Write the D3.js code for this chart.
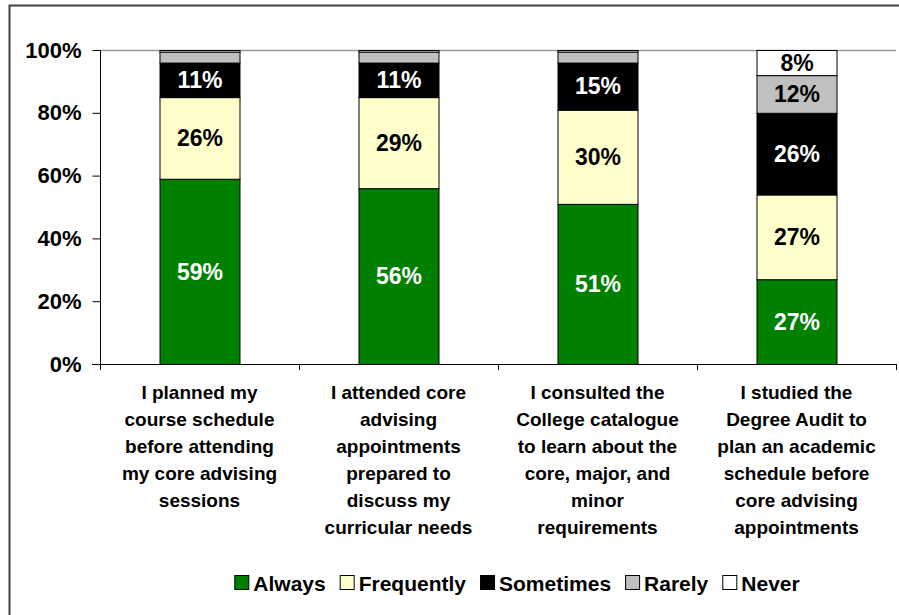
<!DOCTYPE html>
<html>
<head>
<meta charset="utf-8">
<script src="https://cdn.jsdelivr.net/npm/d3@7"></script>
<style>
  html, body { margin: 0; padding: 0; background: #fff; }
  svg { display: block; font-family: "Liberation Sans", Arial, sans-serif; }
</style>
</head>
<body>
<svg id="chart" width="899" height="615"></svg>
<script>
// Survey statements (x-axis categories), each split over lines
const categories = [
  ["I planned my", "course schedule", "before attending", "my core advising", "sessions"],
  ["I attended core", "advising", "appointments", "prepared to", "discuss my", "curricular needs"],
  ["I consulted the", "College catalogue", "to learn about the", "core, major, and", "minor", "requirements"],
  ["I studied the", "Degree Audit to", "plan an academic", "schedule before", "core advising", "appointments"]
];

// Response series, stacked bottom to top (percent of respondents)
const seriesNames = ["Always", "Frequently", "Sometimes", "Rarely", "Never"];
const always     = [59, 56, 51, 27];
const frequently = [26, 29, 30, 27];
const sometimes  = [11, 11, 15, 26];
const rarely     = [3.5, 3.5, 3.5, 12];
const never      = [0.5, 0.5, 0.5, 8];

const yTicks = [0, 20, 40, 60, 80, 100];

// Segment labels are shown only where the segment is tall enough
const labelMin = 5;

const fills = ["#008000", "#FFFFCC", "#000000", "#C0C0C0", "#FFFFFF"];
const textFills = ["#FFFFFF", "#000000", "#FFFFFF", "#000000", "#000000"];

const svg = d3.select("#chart");

// outer chart frame
svg.append("rect")
  .attr("x", 9.5).attr("y", 5.5)
  .attr("width", 905).attr("height", 620)
  .attr("fill", "none")
  .attr("stroke", "#404040")
  .attr("stroke-width", 2);

const plot = { left: 100, right: 896, top: 50, bottom: 364 };

const x = d3.scaleBand()
  .domain(d3.range(categories.length))
  .range([plot.left, plot.right])
  .paddingInner(0.598)
  .paddingOuter(0.299);

const y = d3.scaleLinear()
  .domain([0, 100])
  .range([plot.bottom, plot.top]);

// table for the stack layout
const rows = categories.map((c, i) => ({
  Always: always[i], Frequently: frequently[i], Sometimes: sometimes[i],
  Rarely: rarely[i], Never: never[i]
}));
const stacked = d3.stack().keys(seriesNames)(rows);

// gridline at 100%
svg.append("line")
  .attr("x1", plot.left).attr("x2", plot.right)
  .attr("y1", y(100) + 0.5).attr("y2", y(100) + 0.5)
  .attr("stroke", "#999999").attr("stroke-width", 1.5);

// bars
const layers = svg.append("g").selectAll("g")
  .data(stacked)
  .join("g")
  .attr("fill", (d, i) => fills[i]);

layers.selectAll("rect")
  .data(d => d.map((v, i) => ({ v, i })))
  .join("rect")
  .attr("x", d => x(d.i) + 0.5)
  .attr("width", x.bandwidth())
  .attr("y", d => y(d.v[1]) + 0.5)
  .attr("height", d => y(d.v[0]) - y(d.v[1]))
  .attr("stroke", "#000")
  .attr("stroke-width", 1);

// segment value labels
stacked.forEach((layer, si) => {
  svg.append("g").selectAll("text")
    .data(layer.map((v, i) => ({ v, i, val: v[1] - v[0] })).filter(d => d.val >= labelMin))
    .join("text")
    .attr("x", d => x(d.i) + x.bandwidth() / 2 + 0.5)
    .attr("y", d => (y(d.v[0]) + y(d.v[1])) / 2)
    .attr("dy", "0.36em")
    .attr("text-anchor", "middle")
    .attr("font-size", 23)
    .attr("font-weight", "bold")
    .attr("fill", textFills[si])
    .text(d => d.val + "%");
});

// y axis
const yAxis = svg.append("g")
  .attr("transform", `translate(${plot.left + 0.5},0)`)
  .call(d3.axisLeft(y).tickValues(yTicks).tickSize(8).tickPadding(11)
    .tickFormat(d => d + "%"));
yAxis.select(".domain").attr("stroke", "#000").attr("d", `M0,${plot.top}V${plot.bottom + 6}`);
yAxis.selectAll(".tick line").attr("stroke", "#000");
yAxis.selectAll("text")
  .attr("font-size", 22).attr("font-weight", "bold")
  .attr("font-family", "Liberation Sans, Arial, sans-serif")
  .attr("fill", "#000");

// x axis baseline with category separators
svg.append("line")
  .attr("x1", plot.left - 8).attr("x2", plot.right)
  .attr("y1", plot.bottom + 0.5).attr("y2", plot.bottom + 0.5)
  .attr("stroke", "#000");
const step = x.step();
svg.append("g").selectAll("line")
  .data(d3.range(1, categories.length + 1))
  .join("line")
  .attr("x1", i => plot.left + i * step + 0.5)
  .attr("x2", i => plot.left + i * step + 0.5)
  .attr("y1", plot.bottom).attr("y2", plot.bottom + 6)
  .attr("stroke", "#000");

// category labels
categories.forEach((lines, i) => {
  const cx = x(i) + x.bandwidth() / 2;
  const t = svg.append("text")
    .attr("x", cx)
    .attr("y", 399)
    .attr("text-anchor", "middle")
    .attr("font-size", 19)
    .attr("font-weight", "bold")
    .attr("fill", "#000");
  lines.forEach((ln, k) => {
    t.append("tspan")
      .attr("x", cx)
      .attr("dy", k === 0 ? 0 : 27)
      .text(ln);
  });
});

// legend, centred below the categories
const legend = svg.append("g");
let lx = 0;
seriesNames.forEach((name, i) => {
  const g = legend.append("g");
  g.append("rect")
    .attr("x", 0.5).attr("y", -7.5)
    .attr("width", 14).attr("height", 14)
    .attr("fill", fills[i]).attr("stroke", "#000");
  const t = g.append("text")
    .attr("x", 19).attr("y", 0)
    .attr("dy", "0.36em")
    .attr("font-size", 21).attr("font-weight", "bold")
    .attr("fill", "#000")
    .text(name);
  g.attr("transform", `translate(${lx},0)`);
  lx += 19 + t.node().getComputedTextLength() + 14;
});
const legendWidth = lx - 14;
legend.attr("transform", `translate(${517 - legendWidth / 2},583)`);
</script>
</body>
</html>
